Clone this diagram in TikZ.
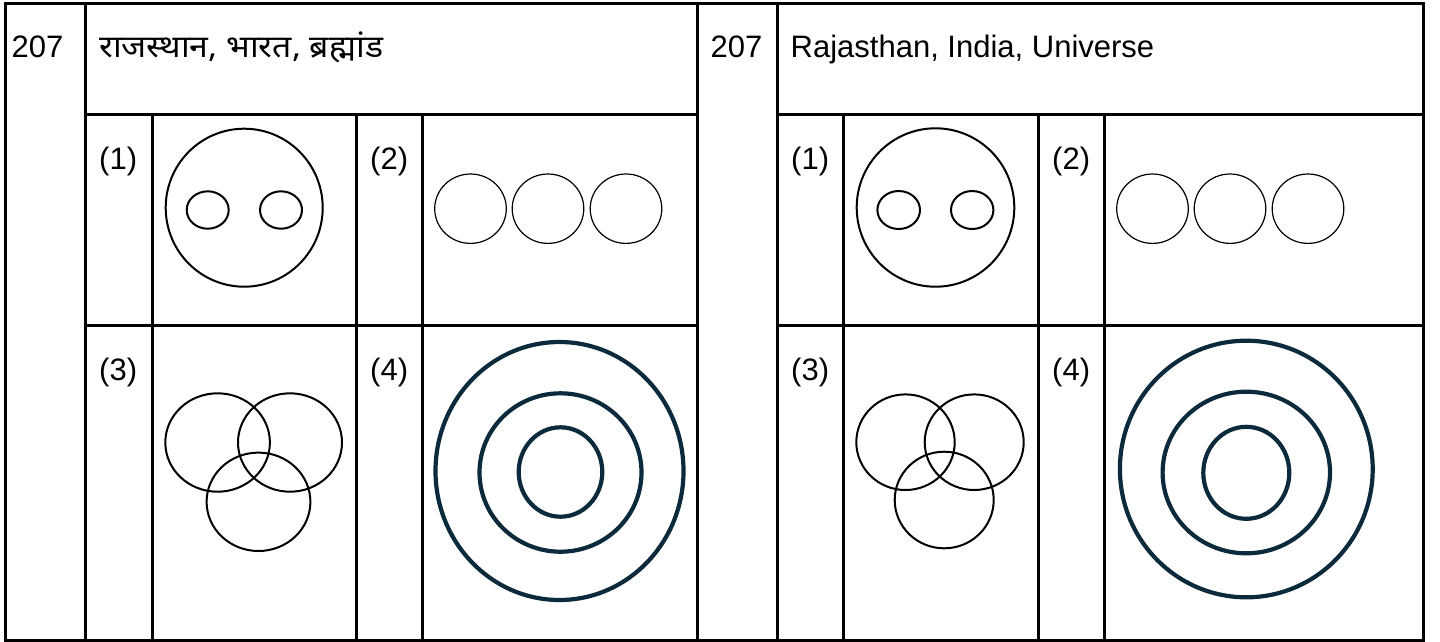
\documentclass[tikz,border=0pt]{standalone}
\usepackage{fontspec}
\setmainfont{Liberation Sans}
\newfontfamily\devfont[Script=Devanagari]{Noto Sans}
\definecolor{navy}{HTML}{0B2A3B}
\begin{document}
\begin{tikzpicture}[x=1pt,y=-1pt,
  grid/.style={line width=3pt,line cap=rect},
  lbl/.style={anchor=base west,inner sep=0pt,font=\fontsize{31}{37}\selectfont},
  shp/.style={line width=2pt},
  thin/.style={line width=1.2pt},
  ring/.style={line width=4.2pt,draw=navy}]
\useasboundingbox (0,0) rectangle (1440,641);
% ---------- left table ----------
\draw[grid] (5,3) rectangle (697,640);
\draw[grid] (85,3) -- (85,640);
\draw[grid] (85,114.5) -- (697,114.5);
\draw[grid] (85,325) -- (697,325);
\foreach \x in {152,356,422} \draw[grid] (\x,114.5) -- (\x,640);
% ---------- right table ----------
\draw[grid] (697,3) rectangle (1423,640);
\draw[grid] (777,3) -- (777,640);
\draw[grid] (777,114.5) -- (1423,114.5);
\draw[grid] (777,325) -- (1423,325);
\foreach \x in {843,1038,1104} \draw[grid] (\x,114.5) -- (\x,640);
% ---------- texts ----------
\node[lbl] (nL) at (11.5,57) {207};
\node[lbl] (tL) at (99,57) {\resizebox{284pt}{\height}{\devfont\fontsize{31}{37}\selectfont राजस्थान, भारत, ब्रह्मांड}};
\node[lbl] (nR) at (710.5,57) {207};
\node[lbl] (tR) at (790.5,57) {Rajasthan, India, Universe};
\node[lbl] (l1L) at (99,169) {(1)};
\node[lbl] (l2L) at (370,169) {(2)};
\node[lbl] (l3L) at (99,380) {(3)};
\node[lbl] (l4L) at (370,380) {(4)};
\node[lbl] (l1R) at (791,169) {(1)};
\node[lbl] (l2R) at (1052,169) {(2)};
\node[lbl] (l3R) at (791,380) {(3)};
\node[lbl] (l4R) at (1052,380) {(4)};
% ---------- option (1) ----------
\draw[shp] (244.2,207.7) ellipse [x radius=78.5,y radius=79];
\draw[shp] (207.7,210) ellipse [x radius=21,y radius=18.7];
\draw[shp] (281,210) ellipse [x radius=21,y radius=18.7];
\draw[shp] (935.5,207.5) ellipse [x radius=78.8,y radius=79.2];
\draw[shp] (898.7,210) ellipse [x radius=21.3,y radius=19];
\draw[shp] (972.2,210) ellipse [x radius=21.2,y radius=19];
% ---------- option (2) ----------
\foreach \cx in {470.5,548,626}
  \draw[thin] (\cx,208.7) ellipse [x radius=35.8,y radius=34.7];
\foreach \cx in {1152.5,1230,1308}
  \draw[thin] (\cx,208.7) ellipse [x radius=35.8,y radius=34.7];
% ---------- option (3) ----------
\draw[shp] (217.6,442.5) ellipse [x radius=52.3,y radius=49.2];
\draw[shp] (290,442.5) ellipse [x radius=52,y radius=49.2];
\draw[shp] (258.5,501.8) ellipse [x radius=51.9,y radius=49.2];
\draw[shp] (905.5,442.2) ellipse [x radius=49.2,y radius=47.8];
\draw[shp] (974.2,442.2) ellipse [x radius=49.5,y radius=47.8];
\draw[shp] (944.2,500) ellipse [x radius=49.5,y radius=48.3];
% ---------- option (4) ----------
\draw[ring] (559.5,471) ellipse [x radius=124,y radius=129];
\draw[ring] (560.5,472.5) ellipse [x radius=81,y radius=79.2];
\draw[ring] (560.5,472) ellipse [x radius=41.8,y radius=44.7];
\draw[ring] (1246.3,469) ellipse [x radius=126.4,y radius=128.3];
\draw[ring] (1246.3,472.5) ellipse [x radius=83.7,y radius=80.8];
\draw[ring] (1246.3,472.8) ellipse [x radius=43,y radius=46];
\end{tikzpicture}
\end{document}
